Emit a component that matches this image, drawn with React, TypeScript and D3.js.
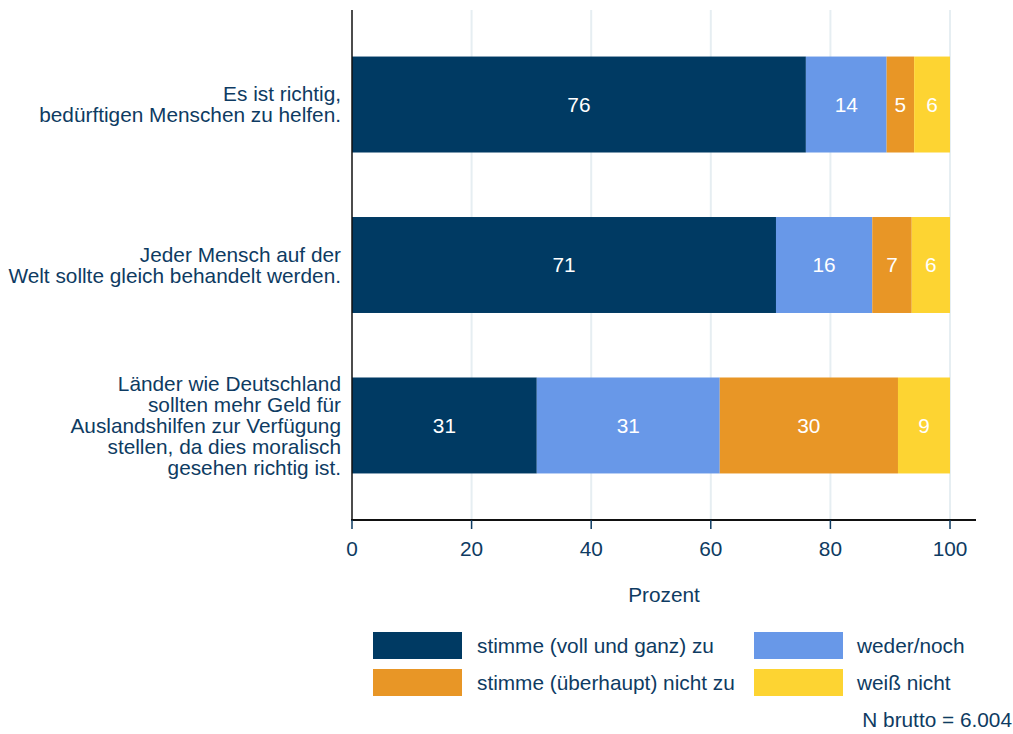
import { useEffect, useRef } from 'react';
import * as d3 from 'd3';

// categories (one entry per bar, each split into display lines)
const categories = ['richtig', 'gleich', 'laender'];
const categoryLines = [
  ['Es ist richtig,', 'bedürftigen Menschen zu helfen.'],
  ['Jeder Mensch auf der', 'Welt sollte gleich behandelt werden.'],
  ['Länder wie Deutschland', 'sollten mehr Geld für', 'Auslandshilfen zur Verfügung', 'stellen, da dies moralisch', 'gesehen richtig ist.'],
];

// series values (percent)
const series = ['stimme (voll und ganz) zu', 'weder/noch', 'stimme (überhaupt) nicht zu', 'weiß nicht'];
const zustimmung = [75.9, 70.9, 30.9];
const wederNoch = [13.5, 16.1, 30.6];
const ablehnung = [4.6, 6.6, 29.8];
const weissNicht = [6.0, 6.4, 8.7];
const colors = ['#003a63', '#6898e8', '#e89626', '#fdd432'];

const xTicks = [0, 20, 40, 60, 80, 100];
const note = 'N brutto = 6.004';

const W = 1013;
const H = 734;
const textColor = '#0e3b62';

const App = () => {
  const svgRef = useRef(null);

  useEffect(() => {
    const svg = d3.select(svgRef.current);
    svg.selectAll('*').remove();
    svg.attr('width', W).attr('height', H);

    const left = 352, top = 10, bottom = 520, axisEnd = 976;
    const font = '"Liberation Sans", Arial, sans-serif';
    const fs = '20.8px';

    const x = d3.scaleLinear().domain([0, 100]).range([left, 950]);
    const y = d3.scaleBand()
      .domain(categories)
      .range([top, bottom])
      .paddingInner(0.402)
      .paddingOuter(0.29);

    // grid lines
    svg.append('g')
      .selectAll('line')
      .data(xTicks.filter(d => d > 0))
      .enter()
      .append('line')
      .attr('x1', d => x(d))
      .attr('x2', d => x(d))
      .attr('y1', top)
      .attr('y2', bottom)
      .style('stroke', '#e6eef2')
      .style('stroke-width', 2);

    // stacked data
    const rows = categories.map((c, i) => ({
      cat: c,
      vals: [zustimmung[i], wederNoch[i], ablehnung[i], weissNicht[i]],
    }));
    const segs = [];
    rows.forEach(r => {
      let acc = 0;
      r.vals.forEach((v, j) => {
        segs.push({ cat: r.cat, x0: acc, x1: acc + v, v, j });
        acc += v;
      });
    });

    svg.append('g')
      .selectAll('rect')
      .data(segs)
      .enter()
      .append('rect')
      .attr('x', d => x(d.x0))
      .attr('width', d => x(d.x1) - x(d.x0))
      .attr('y', d => y(d.cat))
      .attr('height', y.bandwidth())
      .style('fill', d => colors[d.j]);

    svg.append('g')
      .selectAll('text')
      .data(segs)
      .enter()
      .append('text')
      .attr('x', d => (x(d.x0) + x(d.x1)) / 2)
      .attr('y', d => y(d.cat) + y.bandwidth() / 2)
      .attr('dy', '0.35em')
      .attr('text-anchor', 'middle')
      .style('font-family', font)
      .style('font-size', fs)
      .style('fill', 'white')
      .text(d => Math.round(d.v));

    // category labels
    const lh = 21;
    categories.forEach((c, i) => {
      const lines = categoryLines[i];
      const cy = y(c) + y.bandwidth() / 2;
      const t = svg.append('text')
        .attr('text-anchor', 'end')
        .style('font-family', font)
        .style('font-size', fs)
        .style('fill', textColor);
      lines.forEach((l, k) => {
        t.append('tspan')
          .attr('x', left - 11)
          .attr('y', cy + (k - (lines.length - 1) / 2) * lh)
          .attr('dy', '0.35em')
          .text(l);
      });
    });

    // axes lines
    svg.append('line')
      .attr('x1', left).attr('x2', left)
      .attr('y1', top).attr('y2', bottom)
      .style('stroke', '#111').style('stroke-width', 1.5);
    svg.append('line')
      .attr('x1', left - 1).attr('x2', axisEnd)
      .attr('y1', bottom).attr('y2', bottom)
      .style('stroke', '#111').style('stroke-width', 2);

    // x ticks
    const tk = svg.append('g');
    tk.selectAll('line')
      .data(xTicks)
      .enter()
      .append('line')
      .attr('x1', d => x(d)).attr('x2', d => x(d))
      .attr('y1', bottom).attr('y2', bottom + 9)
      .style('stroke', textColor).style('stroke-width', 1.5);
    tk.selectAll('text')
      .data(xTicks)
      .enter()
      .append('text')
      .attr('x', d => x(d))
      .attr('y', bottom + 29)
      .attr('dy', '0.35em')
      .attr('text-anchor', 'middle')
      .style('font-family', font)
      .style('font-size', fs)
      .style('fill', textColor)
      .text(d => d);

    svg.append('text')
      .attr('x', 664)
      .attr('y', 595)
      .attr('dy', '0.35em')
      .attr('text-anchor', 'middle')
      .style('font-family', font)
      .style('font-size', fs)
      .style('fill', textColor)
      .text('Prozent');

    // legend (2 columns)
    const legend = svg.append('g')
      .selectAll('g')
      .data(series)
      .enter()
      .append('g')
      .attr('transform', (d, i) => `translate(${i % 2 === 0 ? 373 : 754},${i < 2 ? 632 : 669})`);
    legend.append('rect')
      .attr('width', 89)
      .attr('height', 27)
      .style('fill', (d, i) => colors[i]);
    legend.append('text')
      .attr('x', (d, i) => (i % 2 === 0 ? 104 : 103))
      .attr('y', 14)
      .attr('dy', '0.35em')
      .style('font-family', font)
      .style('font-size', fs)
      .style('fill', textColor)
      .text(d => d);

    svg.append('text')
      .attr('x', 1012)
      .attr('y', 720)
      .attr('dy', '0.35em')
      .attr('text-anchor', 'end')
      .style('font-family', font)
      .style('font-size', fs)
      .style('fill', textColor)
      .text(note);
  }, []);

  return (
    <svg ref={svgRef} style={{ position: 'absolute', left: 0, top: 0, background: 'white' }}></svg>
  );
};

export default App;
